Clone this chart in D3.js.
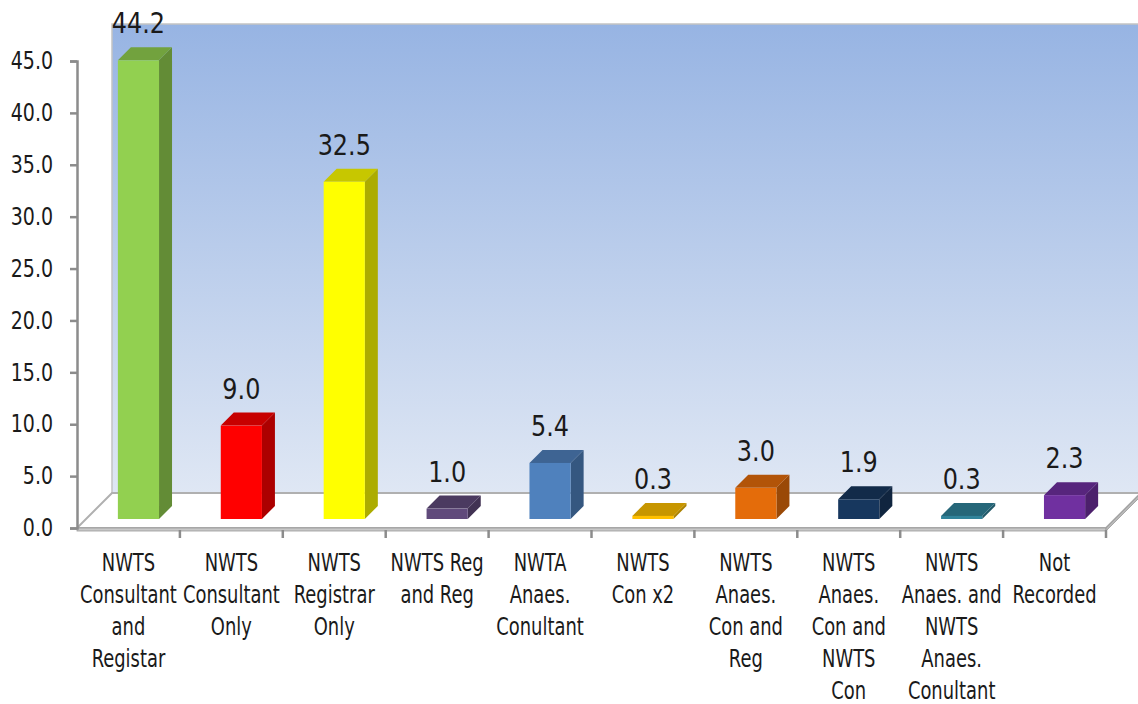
<!DOCTYPE html>
<html>
<head>
<meta charset="utf-8">
<script src="https://cdn.jsdelivr.net/npm/d3@7"></script>
<style>
  html, body { margin: 0; padding: 0; background: #fff; }
  svg text { font-family: "Liberation Sans Narrow", "DejaVu Sans Condensed", sans-serif; fill: #1a1a1a; }
</style>
</head>
<body>
<svg id="chart" width="1138" height="704"></svg>
<script>
// categories (each line of the wrapped label separated by \n)
var categories = [
    "NWTS\nConsultant\nand\nRegistar",
    "NWTS\nConsultant\nOnly",
    "NWTS\nRegistrar\nOnly",
    "NWTS Reg\nand Reg",
    "NWTA\nAnaes.\nConultant",
    "NWTS\nCon x2",
    "NWTS\nAnaes.\nCon and\nReg",
    "NWTS\nAnaes.\nCon and\nNWTS\nCon",
    "NWTS\nAnaes. and\nNWTS\nAnaes.\nConultant",
    "Not\nRecorded"
];
var values = [44.2, 9.0, 32.5, 1.0, 5.4, 0.3, 3.0, 1.9, 0.3, 2.3];
var yTicks = [0, 5, 10, 15, 20, 25, 30, 35, 40, 45];
var barColors = ["#92d050", "#ff0000", "#ffff00", "#604a7b", "#4f81bd",
                 "#ffc000", "#e46c0a", "#17375e", "#31849b", "#7030a0"];

var svg = d3.select('#chart');

// 3d geometry
var depth = 35,          // floor depth
    frontOff = 10,       // bar front face sits a little behind the floor edge
    frontOffY = 9,
    barDepth = 13,
    squeeze = 0.83;      // narrow the condensed font a bit more

var x = d3.scaleBand()
    .domain(d3.range(categories.length))
    .range([77, 1106]);

var y = d3.scaleLinear()
    .domain([0, 45])
    .range([528, 61]);

var barW = x.bandwidth() * 0.4;

function pts(arr) { return arr.map(function(p) { return p.join(','); }).join(' '); }

// gradient for back wall
var defs = svg.append('defs');
var grad = defs.append('linearGradient')
    .attr('id', 'wallGrad')
    .attr('x1', 0).attr('y1', 0).attr('x2', 0).attr('y2', 1);
grad.append('stop').attr('offset', '0%').attr('stop-color', '#97b4e3');
grad.append('stop').attr('offset', '100%').attr('stop-color', '#dfe7f4');

var x0 = x.range()[0], x1 = x.range()[1], y0 = y(0);
var wallTop = y(45) - depth - 2;

// back wall
svg.append('rect')
    .attr('x', x0 + depth)
    .attr('y', wallTop)
    .attr('width', x1 - x0 + 10)
    .attr('height', y0 - depth - wallTop)
    .attr('fill', 'url(#wallGrad)')
    .attr('stroke', '#c4c4c4')
    .attr('stroke-width', 1.5);

// floor
svg.append('polygon')
    .attr('points', pts([[x0, y0], [x1, y0], [x1 + depth, y0 - depth], [x0 + depth, y0 - depth]]))
    .attr('fill', '#ffffff')
    .attr('stroke', '#b0b0b0')
    .attr('stroke-width', 2);

// floor slab edges
svg.append('rect')
    .attr('x', x0).attr('y', y0)
    .attr('width', x1 - x0).attr('height', 3)
    .attr('fill', '#c8c8c8')
    .attr('stroke', '#9a9a9a')
    .attr('stroke-width', 0.8);
svg.append('polygon')
    .attr('points', pts([[x1, y0], [x1 + depth, y0 - depth], [x1 + depth, y0 - depth + 3], [x1, y0 + 3]]))
    .attr('fill', '#b8b8b8')
    .attr('stroke', '#9a9a9a')
    .attr('stroke-width', 0.8);

// y axis
var yAxis = d3.axisLeft(y)
    .tickValues(yTicks)
    .tickFormat(d3.format('.1f'))
    .tickSize(7)
    .tickPadding(9);
var gy = svg.append('g')
    .attr('transform', 'translate(' + x0 + ',0)')
    .call(yAxis);
gy.select('.domain').attr('stroke', '#8c8c8c').attr('stroke-width', 2.5);
gy.selectAll('.tick line').attr('stroke', '#8c8c8c').attr('stroke-width', 2.5);
gy.selectAll('.tick text')
    .attr('font-size', 24)
    .attr('x', -24 / 0.88)
    .attr('transform', 'scale(0.88,1)')
    .style('font-family', '"Liberation Sans Narrow", "DejaVu Sans Condensed", sans-serif')
    .attr('fill', '#1a1a1a');

// category ticks on floor edge
svg.append('g')
    .selectAll('line')
    .data(d3.range(1, categories.length + 1))
    .enter().append('line')
    .attr('x1', function(i) { return x0 + i * x.step(); })
    .attr('x2', function(i) { return x0 + i * x.step(); })
    .attr('y1', y0 + 2)
    .attr('y2', y0 + 10)
    .attr('stroke', '#8c8c8c')
    .attr('stroke-width', 2.5);

// bars
var bars = svg.append('g')
    .selectAll('g.bar')
    .data(values)
    .enter().append('g')
    .attr('class', 'bar');

bars.each(function(v, i) {
    var g = d3.select(this);
    var c = d3.color(barColors[i]);
    var left = x(i) + (x.bandwidth() - barW) / 2 + frontOff,
        right = left + barW,
        bottom = y(0) - frontOffY,
        top = y(v) - frontOffY;
    // side
    g.append('polygon')
        .attr('points', pts([[right, top], [right + barDepth, top - barDepth],
                              [right + barDepth, bottom - barDepth], [right, bottom]]))
        .attr('fill', c.darker(1.1));
    // top
    g.append('polygon')
        .attr('points', pts([[left, top], [left + barDepth, top - barDepth],
                              [right + barDepth, top - barDepth], [right, top]]))
        .attr('fill', c.darker(0.7));
    // front
    g.append('rect')
        .attr('x', left)
        .attr('y', top)
        .attr('width', barW)
        .attr('height', bottom - top)
        .attr('fill', c);
    // value label
    g.append('text')
        .attr('transform', 'translate(' + (left + barW / 2) + ',' + (top - 27) + ') scale(0.95,1)')
        .attr('text-anchor', 'middle')
        .attr('font-size', 28)
        .text(d3.format('.1f')(v));
});

// category labels
var labels = svg.append('g')
    .selectAll('text')
    .data(categories)
    .enter().append('text')
    .attr('text-anchor', 'middle')
    .attr('font-size', 24)
    .attr('transform', function(d, i) {
        return 'translate(' + (x(i) + x.bandwidth() / 2) + ',571) scale(' + squeeze + ',1)';
    });

labels.selectAll('tspan')
    .data(function(d) { return d.split('\n'); })
    .enter().append('tspan')
    .attr('x', 0)
    .attr('dy', function(d, i) { return i === 0 ? 0 : 32; })
    .text(function(d) { return d; });
</script>
</body>
</html>
